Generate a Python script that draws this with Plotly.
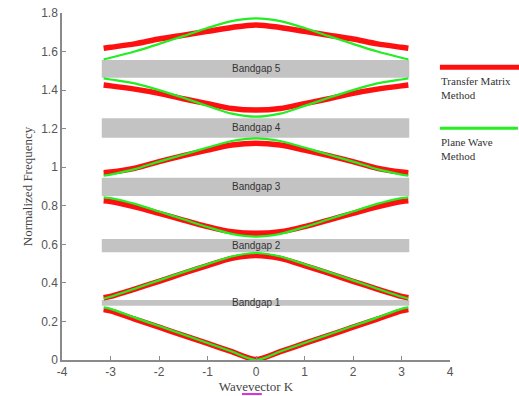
import plotly.graph_objects as go

# Wavevector samples (symmetric about 0)
K = [-3.1416, -3.0, -2.5, -2.0, -1.5, -1.0, -0.5, 0.0, 0.5, 1.0, 1.5, 2.0, 2.5, 3.0, 3.1416]

# Transfer Matrix Method bands (red)
tmm_b1 = [0.262, 0.255, 0.212, 0.170, 0.128, 0.086, 0.043, 0.003, 0.043, 0.086, 0.128, 0.170, 0.212, 0.255, 0.262]
tmm_b2 = [0.323, 0.330, 0.368, 0.408, 0.450, 0.490, 0.527, 0.542, 0.527, 0.490, 0.450, 0.408, 0.368, 0.330, 0.323]
tmm_b3 = [0.826, 0.822, 0.795, 0.761, 0.726, 0.692, 0.665, 0.657, 0.665, 0.692, 0.726, 0.761, 0.795, 0.822, 0.826]
tmm_b4 = [0.972, 0.975, 0.995, 1.029, 1.060, 1.089, 1.115, 1.125, 1.115, 1.089, 1.060, 1.029, 0.995, 0.975, 0.972]
tmm_b5 = [1.426, 1.422, 1.405, 1.383, 1.355, 1.330, 1.305, 1.297, 1.305, 1.330, 1.355, 1.383, 1.405, 1.422, 1.426]
tmm_b6 = [1.617, 1.622, 1.640, 1.665, 1.685, 1.705, 1.725, 1.738, 1.725, 1.705, 1.685, 1.665, 1.640, 1.622, 1.617]

# Plane Wave Method bands (green)
pwm_b1 = [0.273, 0.265, 0.220, 0.176, 0.132, 0.088, 0.044, 0.000, 0.044, 0.088, 0.132, 0.176, 0.220, 0.265, 0.273]
pwm_b2 = [0.318, 0.328, 0.370, 0.413, 0.456, 0.497, 0.537, 0.555, 0.537, 0.497, 0.456, 0.413, 0.370, 0.328, 0.318]
pwm_b3 = [0.844, 0.840, 0.810, 0.770, 0.730, 0.690, 0.654, 0.640, 0.654, 0.690, 0.730, 0.770, 0.810, 0.840, 0.844]
pwm_b4 = [0.956, 0.962, 0.990, 1.029, 1.065, 1.102, 1.136, 1.150, 1.136, 1.102, 1.065, 1.029, 0.990, 0.962, 0.956]
pwm_b5 = [1.461, 1.455, 1.435, 1.400, 1.360, 1.318, 1.278, 1.262, 1.278, 1.318, 1.360, 1.400, 1.435, 1.455, 1.461]
pwm_b6 = [1.560, 1.568, 1.600, 1.640, 1.680, 1.722, 1.758, 1.772, 1.758, 1.722, 1.680, 1.640, 1.600, 1.568, 1.560]

# Band gaps
gap_names = ["Bandgap 1", "Bandgap 2", "Bandgap 3", "Bandgap 4", "Bandgap 5"]
gap_low = [0.282, 0.559, 0.851, 1.153, 1.464]
gap_high = [0.311, 0.628, 0.946, 1.254, 1.556]
gap_k_min = -3.18
gap_k_max = 3.16

# Tick labels
x_tickvals = [-4, -3, -2, -1, 0, 1, 2, 3, 4]
x_ticktext = ["-4", "-3", "-2", "-1", "0", "1", "2", "3", "4"]
y_tickvals = [0, 0.2, 0.4, 0.6, 0.8, 1.0, 1.2, 1.4, 1.6, 1.8]
y_ticktext = ["0", "0.2", "0.4", "0.6", "0.8", "1", "1.2", "1.4", "1.6", "1.8"]

tmm = [tmm_b1, tmm_b2, tmm_b3, tmm_b4, tmm_b5, tmm_b6]
pwm = [pwm_b1, pwm_b2, pwm_b3, pwm_b4, pwm_b5, pwm_b6]

RED = "#ff1010"
GREEN = "#22ee22"

fig = go.Figure()

shapes = []
annotations = []
for name, lo, hi in zip(gap_names, gap_low, gap_high):
    shapes.append(dict(type="rect", xref="x", yref="y", x0=gap_k_min, x1=gap_k_max,
                       y0=lo, y1=hi, fillcolor="#c3c3c3", line=dict(width=0), layer="below"))
    annotations.append(dict(x=0, y=(lo + hi) / 2, xref="x", yref="y", text=name, showarrow=False,
                            font=dict(family="Liberation Sans, Arial", size=10, color="#333333")))

for b in tmm:
    fig.add_trace(go.Scatter(x=K, y=b, mode="lines", line=dict(color=RED, width=5.5, shape="spline", smoothing=0.8),
                             showlegend=False, hoverinfo="skip"))
for b in pwm:
    fig.add_trace(go.Scatter(x=K, y=b, mode="lines", line=dict(color=GREEN, width=2.2, shape="spline", smoothing=0.8),
                             showlegend=False, hoverinfo="skip"))

# Manual legend (outside right)
shapes.append(dict(type="line", xref="paper", yref="paper", x0=0.974, x1=1.18, y0=0.844, y1=0.844,
                   line=dict(color=RED, width=5)))
shapes.append(dict(type="line", xref="paper", yref="paper", x0=0.974, x1=1.175, y0=0.668, y1=0.668,
                   line=dict(color=GREEN, width=3)))
annotations.append(dict(x=0.972, y=0.827, xref="paper", yref="paper", xanchor="left", yanchor="top",
                        align="left", showarrow=False, text="Transfer Matrix<br>Method",
                        font=dict(family="Liberation Serif, Times New Roman", size=11, color="#333333")))
annotations.append(dict(x=0.972, y=0.650, xref="paper", yref="paper", xanchor="left", yanchor="top",
                        align="left", showarrow=False, text="Plane Wave<br>Method",
                        font=dict(family="Liberation Serif, Times New Roman", size=11, color="#333333")))
# small magenta underline artifact under the x-axis title
shapes.append(dict(type="line", xref="paper", yref="paper", x0=0.464, x1=0.515, y0=-0.098, y1=-0.098,
                   line=dict(color="#e030e0", width=2)))

axis_common = dict(showgrid=False, zeroline=False, showline=True, linecolor="#8a8a8a", linewidth=1.5,
                   ticks="inside", ticklen=4, tickcolor="#8a8a8a", tickwidth=1.2, automargin=False,
                   ticklabeloverflow="allow",
                   tickfont=dict(family="Liberation Sans, Arial", size=12, color="#555555"))

fig.update_layout(
    width=519, height=396,
    margin=dict(l=62, r=69, t=13, b=36, autoexpand=False),
    plot_bgcolor="white", paper_bgcolor="white",
    xaxis=dict(range=[-4, 4], tickmode="array", tickvals=x_tickvals, ticktext=x_ticktext,
               title=dict(text="Wavevector K", standoff=2,
                          font=dict(family="Liberation Serif, Times New Roman", size=13, color="#444444")),
               **axis_common),
    yaxis=dict(range=[0, 1.8], tickmode="array", tickvals=y_tickvals, ticktext=y_ticktext,
               title=dict(text="Normalized Frequency", standoff=6,
                          font=dict(family="Liberation Serif, Times New Roman", size=13, color="#444444")),
               **axis_common),
    shapes=shapes,
    annotations=annotations,
)

# remove the default page margin so the figure fills the window exactly
fig.write_html("out.html", config={"displayModeBar": False},
               post_script="document.body.style.margin='0';document.body.style.overflow='hidden';")
